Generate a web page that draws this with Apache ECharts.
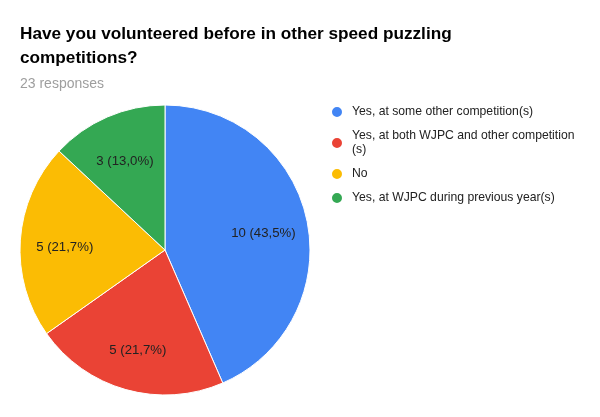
<!DOCTYPE html>
<html>
<head>
<meta charset="utf-8">
<script src="https://cdn.jsdelivr.net/npm/echarts@6/dist/echarts.min.js"></script>
<style>
  html, body { margin: 0; padding: 0; background: #fff; }
  #chart { width: 600px; height: 417px; }
</style>
</head>
<body>
<div id="chart"></div>
<script>
// answers, counts and slice colours
var answers = [
    'Yes, at some other competition(s)',
    'Yes, at both WJPC and other competition(s)',
    'No',
    'Yes, at WJPC during previous year(s)'
];
var counts = [10, 5, 5, 3];
var colors = ['#4285f4', '#ea4335', '#fbbc04', '#34a853'];

var total = counts.reduce(function (a, b) { return a + b; }, 0);

var pieData = answers.map(function (name, i) {
    return { name: name, value: counts[i], itemStyle: { color: colors[i] } };
});

// label like "10 (43,5%)"
function sliceLabel(p) {
    var pct = (p.value / total * 100).toFixed(1).replace('.', ',');
    return p.value + ' (' + pct + '%)';
}

// legend wrap: break at the last character that still fits
var FONT = 'Liberation Sans, Arial, sans-serif';
var ctx = document.createElement('canvas').getContext('2d');
ctx.font = '12.2px ' + FONT;
function wrapLegend(name) {
    var maxW = 226;
    if (ctx.measureText(name).width <= maxW) return name;
    var i = name.length;
    while (i > 1 && ctx.measureText(name.slice(0, i)).width > maxW) i--;
    return name.slice(0, i) + '\n' + name.slice(i);
}

var myChart = echarts.init(document.getElementById('chart'));

var option = {
    backgroundColor: '#fff',
    animation: false,
    title: {
        text: 'Have you volunteered before in other speed puzzling competitions?',
        subtext: total + ' responses',
        left: 20,
        top: 22,
        itemGap: 6,
        padding: 0,
        textStyle: {
            fontFamily: FONT,
            fontSize: 17.2,
            fontWeight: 'bold',
            color: '#000',
            lineHeight: 24,
            width: 470,
            overflow: 'break'
        },
        subtextStyle: {
            fontFamily: FONT,
            fontSize: 14,
            color: '#9e9e9e',
            lineHeight: 16
        }
    },
    legend: {
        orient: 'vertical',
        left: 330,
        top: 105,
        padding: 0,
        itemGap: 10,
        itemWidth: 12,
        itemHeight: 12,
        icon: 'circle',
        selectedMode: false,
        data: answers,
        formatter: wrapLegend,
        textStyle: {
            fontFamily: FONT,
            fontSize: 12.2,
            color: '#222',
            lineHeight: 14,
            padding: [0, 0, 0, 4]
        }
    },
    series: [{
        // the slices
        name: 'answers',
        type: 'pie',
        center: [165, 250],
        radius: 145,
        startAngle: 90,
        clockwise: true,
        label: { show: false },
        labelLine: { show: false },
        itemStyle: { borderColor: '#fff', borderWidth: 1 },
        emphasis: { disabled: true },
        data: pieData
    }, {
        // same slices, transparent, only to place the labels further out
        name: 'labels',
        type: 'pie',
        center: [165, 250],
        radius: [50, 145],
        startAngle: 90,
        clockwise: true,
        silent: true,
        legendHoverLink: false,
        itemStyle: { color: 'rgba(0,0,0,0)' },
        label: {
            show: true,
            position: 'inside',
            formatter: sliceLabel,
            fontFamily: FONT,
            fontSize: 13.2,
            color: '#222',
            offset: [0, 4]
        },
        labelLine: { show: false },
        emphasis: { disabled: true },
        data: answers.map(function (name, i) {
            return { name: name, value: counts[i] };
        })
    }]
};

myChart.setOption(option);
</script>
</body>
</html>
